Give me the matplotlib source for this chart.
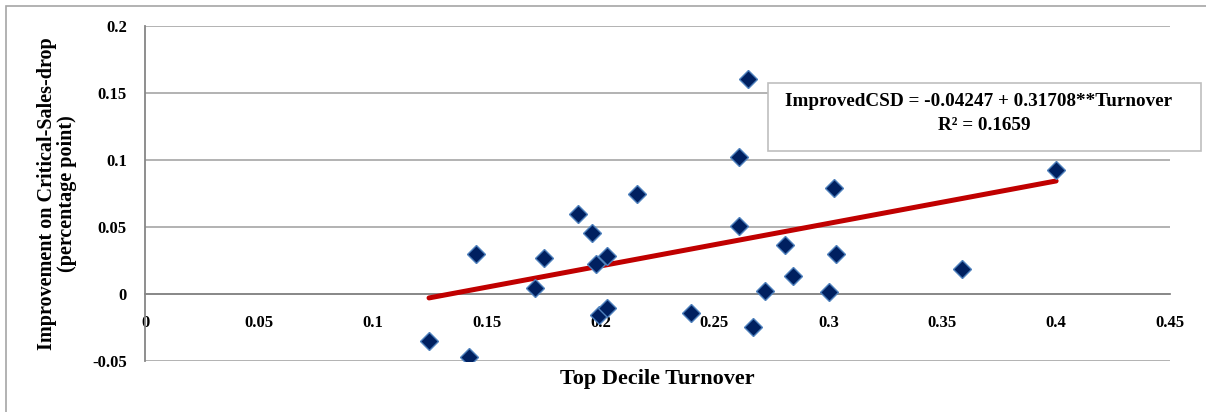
import matplotlib
matplotlib.use("Agg")
import matplotlib.pyplot as plt
from matplotlib.patches import Rectangle
import numpy as np

# Data
turnover = [0.1247, 0.1424, 0.1453, 0.1712, 0.1752, 0.1902, 0.1961, 0.1979,
            0.2027, 0.1994, 0.2027, 0.2159, 0.2397, 0.2608, 0.2608, 0.2649,
            0.2668, 0.2722, 0.2810, 0.2846, 0.3003, 0.3025, 0.3032, 0.3585,
            0.4000]
improved_csd = [-0.0351, -0.0468, 0.0296, 0.0043, 0.0266, 0.0595, 0.0453, 0.0224,
                0.0286, -0.0157, -0.0107, 0.0746, -0.0144, 0.1020, 0.0507, 0.1602,
                -0.0244, 0.0025, 0.0363, 0.0137, 0.0017, 0.0793, 0.0296, 0.0184,
                0.0925]
intercept = -0.04247
slope = 0.31708
r_squared = 0.1659

x_ticks = [0, 0.05, 0.1, 0.15, 0.2, 0.25, 0.3, 0.35, 0.4, 0.45]
x_tick_labels = ["0", "0.05", "0.1", "0.15", "0.2", "0.25", "0.3", "0.35", "0.4", "0.45"]
y_ticks = [-0.05, 0, 0.05, 0.1, 0.15, 0.2]
y_tick_labels = ["-0.05", "0", "0.05", "0.1", "0.15", "0.2"]

plt.rcParams["font.family"] = ["Liberation Serif", "DejaVu Serif"]

fig = plt.figure(figsize=(12.06, 4.12), dpi=100)
ax = fig.add_axes([145 / 1206, 1 - 361 / 412, 1025 / 1206, 335 / 412])

grid_grey = "#a6a6a6"

# Excel-style axes: x axis crosses at y = 0 (set before tick labels)
ax.spines["top"].set_visible(False)
ax.spines["right"].set_visible(False)
ax.spines["bottom"].set_position(("data", 0))
ax.spines["bottom"].set_color("#868686")
ax.spines["bottom"].set_linewidth(1.3)
ax.spines["left"].set_color("#868686")
ax.spines["left"].set_linewidth(1.3)
ax.yaxis.grid(True, color=grid_grey, linewidth=1.2)
ax.set_axisbelow(True)

# Trend line over the data range
x_fit = np.array([min(turnover), max(turnover)])
ax.plot(x_fit, intercept + slope * x_fit, color="#c00000", linewidth=3.6,
        solid_capstyle="round", zorder=3)

# Scatter points
ax.plot(turnover, improved_csd, linestyle="none", marker="D", markersize=9,
        markerfacecolor="#002060", markeredgecolor="#4f81bd", markeredgewidth=1,
        zorder=4)

ax.set_xlim(0, 0.45)
ax.set_ylim(-0.05, 0.2)
ax.set_xticks(x_ticks)
ax.set_xticklabels(x_tick_labels, fontsize=12, fontweight="bold")
ax.set_yticks(y_ticks)
ax.set_yticklabels(y_tick_labels, fontsize=12, fontweight="bold")
ax.tick_params(axis="both", length=0)
ax.tick_params(axis="x", pad=15)
ax.tick_params(axis="y", pad=13)

ax.set_ylabel("Improvement on Critical-Sales-drop\n(percentage point)",
              fontsize=14.5, fontweight="bold", linespacing=1.0)
ax.yaxis.set_label_coords(-0.0665, 0.5)
fig.text(657 / 1206, 1 - 379 / 412, "Top Decile Turnover", ha="center",
         va="center", fontsize=16, fontweight="bold")

# Equation box
fig.patches.append(Rectangle((768 / 1206, 1 - 151 / 412), 433 / 1206, 68 / 412,
                             transform=fig.transFigure, facecolor="white",
                             edgecolor="#bfbfbf", linewidth=1.2, zorder=5))
fig.text(979 / 1206, 1 - 101 / 412,
         f"ImprovedCSD = {intercept:.5f} + {slope:.5f}**Turnover",
         ha="center", va="center", fontsize=13.8, fontweight="bold", zorder=6)
fig.text(984 / 1206, 1 - 125 / 412, f"R\u00b2 = {r_squared:.4f}",
         ha="center", va="center", fontsize=13.8, fontweight="bold", zorder=6)

# Outer chart border
fig.patches.append(Rectangle((6 / 1206, -0.05), 1.1, 1.05 - 6 / 412,
                             transform=fig.transFigure, fill=False,
                             edgecolor="#a6a6a6", linewidth=1.2))

fig.savefig("out.png", dpi=100)
